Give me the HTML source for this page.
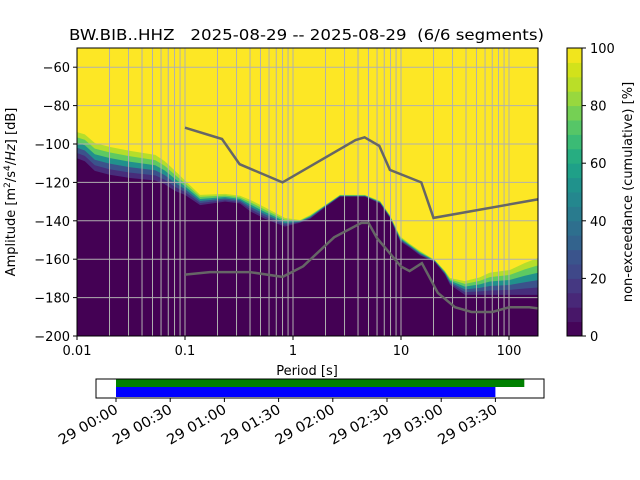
<!DOCTYPE html>
<html><head><meta charset="utf-8"><style>
body{margin:0;background:#fff}
svg{display:block;font-family:"DejaVu Sans","Liberation Sans",sans-serif}
text{white-space:pre}
</style></head><body>
<svg id="s" width="640" height="480" viewBox="0 0 640 480" xmlns="http://www.w3.org/2000/svg">
<defs><clipPath id="cp"><rect x="77" y="48" width="461" height="288"/></clipPath></defs>
<text x="69" y="40" font-size="15.5" textLength="475" lengthAdjust="spacingAndGlyphs" xml:space="preserve">BW.BIB..HHZ   2025-08-29 -- 2025-08-29  (6/6 segments)</text>
<g id="plot" clip-path="url(#cp)"></g>
<rect x="77" y="48" width="461" height="288" fill="none" stroke="#000" stroke-width="1"/>
<g id="axes" font-size="13"></g>
<text transform="translate(15,192) rotate(-90)" font-size="13" text-anchor="middle">Amplitude [m<tspan font-size="9" dy="-5">2</tspan><tspan dy="5">/s</tspan><tspan font-size="9" dy="-5">4</tspan><tspan dy="5">/</tspan><tspan font-style="italic">Hz</tspan>] [dB]</text>
<text x="307" y="375" font-size="13" text-anchor="middle">Period [s]</text>
<g id="cbar"></g>
<text transform="translate(632,192) rotate(-90)" font-size="13" text-anchor="middle">non-exceedance (cumulative) [%]</text>
<g id="tl"></g>
</svg>
<script>
const periods=[0.01,0.0118,0.0146,0.02,0.031,0.053,0.065,0.081,0.1,0.138,0.235,0.323,0.4,0.55,0.84,1.16,1.44,1.98,2.72,4.64,6.4,7.9,9.8,12.1,15,20.6,25.5,28.5,39,53.6,66.5,102,140,186];
const yellowEdge=[-92.7,-95,-99.5,-101.5,-103.6,-105.7,-109,-114,-119,-126.5,-126,-127,-129,-133,-138.5,-139.6,-137,-131.8,-126.5,-126.5,-129.7,-137,-148,-152,-155.7,-160.4,-166,-169.8,-171.4,-169.5,-167,-165.6,-162,-158];
const darkEdge=[-106,-109,-114,-116,-117.7,-119,-121,-124.5,-126.5,-131.8,-130,-131,-135,-139,-143,-141,-139,-133,-127.5,-127.5,-131,-138.5,-150.6,-154,-158,-161.5,-168,-173.4,-178.6,-178.6,-178.6,-178.6,-178.6,-178.6];
const nhnmP=[0.1,0.22,0.32,0.8,3.8,4.6,6.3,7.9,15.4,20,354.8];
const nhnmV=[-91.5,-97.4,-110.5,-120,-97.9,-96.5,-101,-113.5,-120,-138.5,-126];
const nlnmP=[0.1,0.17,0.4,0.8,1.24,2.4,4.3,5,6,10,12,15.6,21.9,31.6,45,70,101,154,328];
const nlnmV=[-168,-166.7,-166.7,-169.2,-163.7,-148.6,-141.1,-141.1,-149,-163.8,-166.2,-162.1,-177.5,-185,-187.5,-187.5,-185,-185,-187.5];
const yTicks=[-60,-80,-100,-120,-140,-160,-180,-200];
const xTicks=[0.01,0.1,1,10,100];
const xTickLabels=["0.01","0.1","1","10","100"];
const cbTicks=[0,20,40,60,80,100];
const timeLabels=["29 00:00","29 00:30","29 01:00","29 01:30","29 02:00","29 02:30","29 03:00","29 03:30"];
const greenSpan=[0,226];
const blueSpan=[0,210];

const NS="http://www.w3.org/2000/svg";
const X=p=>77+108*(Math.log10(p)+2);
const Y=d=>48+(-50-d)*1.92;
function mk(par,tag,at){const e=document.createElementNS(NS,tag);for(const k in at)e.setAttribute(k,at[k]);par.appendChild(e);return e;}
const plot=document.getElementById('plot'),axes=document.getElementById('axes');
let bg=mk(plot,'rect',{x:77,y:48,width:461,height:288,fill:'#fde725'});


const bandCols=['#b5de2b','#5ec962','#21918c','#3b528b','#472d7b'];
const n=periods.length;
const xs=periods.map((p,i)=>i==0?70:(i==n-1?545:X(p)));
function edgeAt(frac){return periods.map((p,i)=>yellowEdge[i]+(darkEdge[i]-yellowEdge[i])*frac);}
for(let k=0;k<bandCols.length;k++){
  const top=edgeAt(k/bandCols.length);
  const pts=xs.map((x,i)=>x.toFixed(1)+','+Y(top[i]).toFixed(1));
  pts.push('545,340','70,340');
  const b=mk(plot,'polygon',{points:pts.join(' '),fill:bandCols[k]});
  
  
}
{
  const pts=xs.map((x,i)=>x.toFixed(1)+','+Y(darkEdge[i]).toFixed(1));
  pts.push('545,340','70,340');
  const d=mk(plot,'polygon',{points:pts.join(' '),fill:'#440154'});
  
  
}
for(let dec=-2;dec<=2;dec++)for(let m=1;m<=9;m++){
  const p=m*Math.pow(10,dec);if(p>190)continue;
  const g=mk(plot,'line',{x1:X(p),x2:X(p),y1:48,y2:336,stroke:'#b0b0b0','stroke-width':1});
  
  
}
for(let d=-60;d>=-200;d-=20){
  const g=mk(plot,'line',{x1:77,x2:538,y1:Y(d),y2:Y(d),stroke:'#b0b0b0','stroke-width':1});
  
  
}
function curve(P,V,name){
  const pts=P.map((p,i)=>X(p).toFixed(1)+','+Y(V[i]).toFixed(1)).join(' ');
  const c=mk(plot,'polyline',{points:pts,fill:'none',stroke:'#666','stroke-width':2.5});
  
  
}
curve(nhnmP,nhnmV,'nhnm-curve');
curve(nlnmP,nlnmV,'nlnm-curve');
yTicks.forEach(d=>{
  const t=mk(axes,'line',{x1:73,x2:77,y1:Y(d),y2:Y(d),stroke:'#000'});
  
  
  const l=mk(axes,'text',{x:70,y:Y(d)+5,'text-anchor':'end'});l.textContent=String(d).replace('-','\u2212');
  
  
});
xTicks.forEach((p,i)=>{
  const t=mk(axes,'line',{x1:X(p),x2:X(p),y1:336,y2:340,stroke:'#000'});
  
  
  const l=mk(axes,'text',{x:X(p),y:355,'text-anchor':'middle'});l.textContent=xTickLabels[i];
  
  
});
const cb=document.getElementById('cbar');
const vir20=['#450559','#481769','#482878','#453882','#3f4889','#3a548c','#33638d','#2e6f8e','#297b8e','#24878e','#20928c','#1fa088','#27ad81','#3bbb75','#56c667','#75d054','#98d83e','#bade28','#d2e21b','#f1e51d'];
for(let k=0;k<20;k++){
  const r=mk(cb,'rect',{x:567,y:(336-(k+1)*14.4).toFixed(2),width:15,height:14.9,fill:vir20[k]});
  
  
}
let cf=mk(cb,'rect',{x:567,y:48,width:15,height:288,fill:'none',stroke:'#000'});


cbTicks.forEach(v=>{
  const y=336-v*2.88;
  const t=mk(cb,'line',{x1:582,x2:586,y1:y,y2:y,stroke:'#000'});
  
  
  const l=mk(cb,'text',{x:590,y:y+5,'font-size':13});l.textContent=v;
  
  
});
const tl=document.getElementById('tl');
const T=m=>116+m*(54.2/30);
let gb=mk(tl,'rect',{x:T(greenSpan[0]),y:379,width:T(greenSpan[1])-T(greenSpan[0]),height:8,fill:'#008000'});


let bb=mk(tl,'rect',{x:T(blueSpan[0]),y:387,width:T(blueSpan[1])-T(blueSpan[0]),height:10,fill:'#0000ff'});


let tf=mk(tl,'rect',{x:96,y:379,width:448,height:19,fill:'none',stroke:'#000'});


timeLabels.forEach((s,i)=>{
  const x=T(i*30);
  const t=mk(tl,'line',{x1:x,x2:x,y1:398,y2:402,stroke:'#000'});
  
  
  const l=mk(tl,'text',{x:0,y:0,'font-size':14,'text-anchor':'end',textLength:66,lengthAdjust:'spacingAndGlyphs',transform:`translate(${x+3},${412}) rotate(-30)`});l.textContent=s;
  
  
});
</script>
</body></html>
